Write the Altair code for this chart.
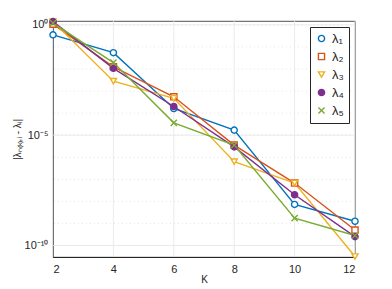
import altair as alt
import pandas as pd

K = [2, 4, 6, 8, 10, 12]
series = ["λ₁", "λ₂", "λ₃", "λ₄", "λ₅"]
# log10 of |lambda_N(K),i - lambda_i|
lam1 = [-0.45, -1.26, -3.79, -4.77, -8.14, -8.90]
lam2 = [0.03, -1.90, -3.26, -5.45, -7.17, -9.30]
lam3 = [0.15, -2.55, -3.33, -6.20, -7.17, -10.50]
lam4 = [0.15, -1.97, -3.70, -5.53, -7.70, -9.60]
lam5 = [0.08, -1.71, -4.44, -5.45, -8.76, -9.55]
colors = ["#0072BD", "#D95319", "#EDB120", "#7E2F8E", "#77AC30"]
fills = ["white", "white", "white", "#7E2F8E", "#77AC30"]
shapes = ["circle", "square", "triangle-down", "circle",
          "M-1,-1L1,1M-1,1L1,-1"]
major_ticks = [1.0, 1e-5, 1e-10]
minor_decades = list(range(-10, 1))
ydomain = [3e-11, 1.5]

rows = []
for name, vals in zip(series, [lam1, lam2, lam3, lam4, lam5]):
    for k, v in zip(K, vals):
        rows.append({"K": k, "err": 10 ** v, "s": name})
df = pd.DataFrame(rows)
grid_df = pd.DataFrame({"g": [10.0 ** d for d in minor_decades]})
xgrid_df = pd.DataFrame({"K": K})

font = "Liberation Sans"
xscale = alt.Scale(domain=[2, 12], nice=False, zero=False)
yscale = alt.Scale(type="log", domain=ydomain, nice=False)

minor = alt.Chart(grid_df).mark_rule(
    color="#dcdcdc", strokeDash=[1, 3], strokeWidth=0.8
).encode(y=alt.Y("g:Q", scale=yscale))

major = alt.Chart(pd.DataFrame({"g": major_ticks})).mark_rule(
    color="#e6e6e6", strokeWidth=0.8
).encode(y=alt.Y("g:Q", scale=yscale))

xgrid = alt.Chart(xgrid_df).mark_rule(
    color="#e6e6e6", strokeWidth=0.8
).encode(x=alt.X("K:Q", scale=xscale))

color_enc = alt.Color("s:N", scale=alt.Scale(domain=series, range=colors),
                      legend=alt.Legend(title=None))
lines = alt.Chart(df).mark_line(strokeWidth=1.4).encode(
    x=alt.X("K:Q", scale=xscale,
            axis=alt.Axis(values=K, title="K", grid=False, tickSize=0)),
    y=alt.Y("err:Q", scale=yscale,
            axis=alt.Axis(values=major_ticks, grid=False, tickSize=0,
                          labelExpr="datum.value >= 0.5 ? '10⁰' : (datum.value > 1e-7 ? '10⁻⁵' : '10⁻¹⁰')",
                          title="|λₙ₍ₖ₎,ᵢ - λᵢ|")),
    color=color_enc,
    detail="s:N",
)
points = alt.Chart(df).mark_point(size=38, strokeWidth=1.4, opacity=1, filled=False).encode(
    x=alt.X("K:Q", scale=xscale),
    y=alt.Y("err:Q", scale=yscale),
    color=color_enc,
    fill=alt.Fill("s:N", scale=alt.Scale(domain=series, range=fills),
                  legend=alt.Legend(title=None)),
    shape=alt.Shape("s:N", scale=alt.Scale(domain=series, range=shapes),
                    legend=alt.Legend(title=None)),
)

chart = alt.layer(minor, major, xgrid, lines, points).properties(
    width=302, height=236,
    autosize=alt.AutoSizeParams(type="none"),
    padding={"left": 45, "top": 13, "right": 29, "bottom": 28},
).configure_view(stroke="#262626", strokeWidth=0.8).configure_axis(
    labelFont=font, titleFont=font, labelFontSize=11, titleFontSize=10,
    labelColor="#262626", titleColor="#262626", domainColor="#262626",
    tickColor="#262626", titleFontWeight="normal",
).configure_axisX(titlePadding=0, labelPadding=6).configure_axisY(
    titlePadding=2, labelPadding=5
).configure_legend(
    orient="top-right", offset=6, strokeColor="#262626", fillColor="white",
    padding=5, labelFont=font, labelFontSize=13, labelColor="#262626",
    rowPadding=4, symbolSize=38, symbolStrokeWidth=1.4,
    cornerRadius=0,
)

chart.save("out.html", embed_options={"renderer": "svg", "actions": False})
